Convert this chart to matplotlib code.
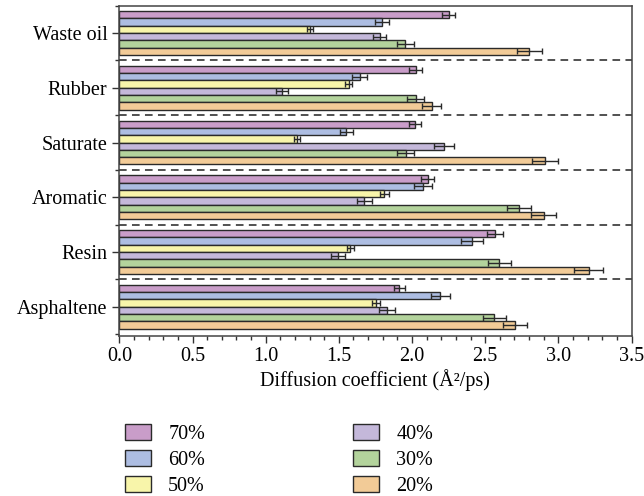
import matplotlib
matplotlib.use('Agg')
import matplotlib.pyplot as plt
import numpy as np

plt.rcParams['font.family'] = ['Liberation Serif', 'DejaVu Serif']

cats = ['Waste oil', 'Rubber', 'Saturate', 'Aromatic', 'Resin', 'Asphaltene']
labels = ['70%', '60%', '50%', '40%', '30%', '20%']

v70 = [2.25, 2.025, 2.02, 2.107, 2.57, 1.914]
v60 = [1.795, 1.643, 1.552, 2.076, 2.41, 2.194]
v50 = [1.305, 1.567, 1.214, 1.811, 1.579, 1.754]
v40 = [1.78, 1.112, 2.217, 1.675, 1.495, 1.83]
v30 = [1.955, 2.025, 1.957, 2.732, 2.597, 2.563]
v20 = [2.80, 2.135, 2.91, 2.90, 3.208, 2.705]

e70 = [0.047, 0.045, 0.04, 0.045, 0.055, 0.04]
e60 = [0.05, 0.05, 0.045, 0.063, 0.074, 0.066]
e50 = [0.02, 0.025, 0.02, 0.03, 0.025, 0.025]
e40 = [0.045, 0.038, 0.07, 0.05, 0.048, 0.057]
e30 = [0.06, 0.06, 0.06, 0.08, 0.08, 0.078]
e20 = [0.085, 0.065, 0.088, 0.087, 0.098, 0.08]

vals = [v70, v60, v50, v40, v30, v20]
errs = [e70, e60, e50, e40, e30, e20]
colors = ['#C99DC9', '#ADBDE2', '#F8F5AA', '#C4B8DA', '#B3D39C', '#F2CB97']

fs = 14.5

fig = plt.figure(figsize=(6.44, 4.96), dpi=100)
ax = fig.add_axes([0.1853, 0.3232, 0.7953, 0.6653])

y = np.arange(len(cats))
h = 0.8 / 6
for i in range(6):
    pos = y - 0.4 + h / 2 + i * h
    ax.barh(pos, vals[i], height=h, color=colors[i], edgecolor='#2a2a2a',
            linewidth=1.0, label=labels[i], zorder=2)
    ax.errorbar(vals[i], pos, xerr=errs[i], fmt='none', ecolor='#2a2a2a',
                elinewidth=1.0, capsize=2.5, capthick=1.0, zorder=3)

# dashed separators
for b in np.arange(0.5, len(cats) - 0.5, 1.0):
    ax.axhline(b, color='#222222', linestyle=(0, (5, 3.5)), linewidth=1.1, zorder=1)

ax.set_ylim(5.53, -0.5)
ax.set_xlim(0, 3.5)
ax.set_yticks(y)
ax.set_yticklabels(cats, fontsize=fs)
ax.set_yticks(np.arange(-0.5, 6.0, 1.0), minor=True)
ax.set_xticks(np.arange(0, 3.51, 0.5))
ax.set_xticklabels(['%.1f' % t for t in np.arange(0, 3.51, 0.5)], fontsize=fs)
ax.set_xticks(np.arange(0, 3.51, 0.1), minor=True)
ax.tick_params(axis='both', which='major', length=5, width=1, color='#333333')
ax.tick_params(axis='both', which='minor', length=3, width=1, color='#333333')
for s in ax.spines.values():
    s.set_color('#444444')
    s.set_linewidth(1.1)
ax.set_xlabel('Diffusion coefficient (Å²/ps)', fontsize=fs, labelpad=2)

handles, lbls = ax.get_legend_handles_labels()
fig.legend(handles, lbls, ncol=2, frameon=False, fontsize=fs,
           loc='upper left', bbox_to_anchor=(0.194, 0.146),
           handlelength=1.3, handleheight=0.85, columnspacing=7.35,
           labelspacing=0.3, handletextpad=0.85, borderpad=0, borderaxespad=0)

fig.savefig('out.png', dpi=100)
